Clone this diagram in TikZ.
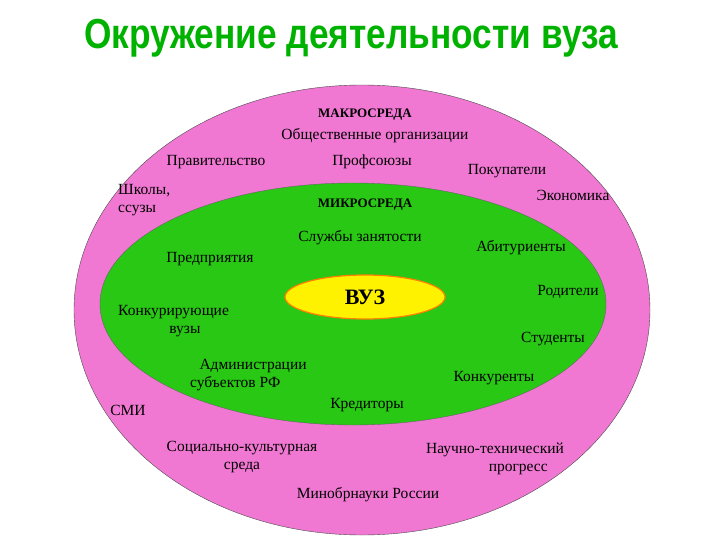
\documentclass[tikz,border=0pt]{standalone}
\usepackage{fontspec}
\usetikzlibrary{shapes.geometric}
\setmainfont{Liberation Serif}
\newfontfamily\titlefont{Liberation Sans}
\begin{document}
\begin{tikzpicture}[x=1pt,y=-1pt,
  lbl/.style={font=\fontsize{15.5}{18}\selectfont, inner sep=0pt},
  lbll/.style={lbl, anchor=west, align=left},
  lblc/.style={lbl, align=center}]
\useasboundingbox (0,0) rectangle (720,540);
\fill[white] (0,0) rectangle (720,540);
\node[inner sep=0pt, text=green!70!black, font=\titlefont\bfseries\fontsize{42}{46}\selectfont, xscale=0.84] (title) at (351,38) {Окружение деятельности вуза};
\node[ellipse, draw=black!70, fill={rgb,255:red,240;green,120;blue,210}, minimum width=576, minimum height=450, inner sep=0pt] (macro) at (362,310) {};
\node[ellipse, draw=black!60, fill={rgb,255:red,40;green,200;blue,20}, minimum width=506, minimum height=242, inner sep=0pt] (micro) at (353,304) {};
\node[ellipse, draw=orange, line width=1.2pt, fill=yellow, minimum width=160, minimum height=44, inner sep=0pt, font=\bfseries\fontsize{22}{24}\selectfont] (vuz) at (365,297) {ВУЗ};
\node[lbl, font=\bfseries\fontsize{13}{15}\selectfont] (t1) at (365,115) {МАКРОСРЕДА};
\node[lbl] (t2) at (375,136) {Общественные организации};
\node[lbl] (t3) at (216,162) {Правительство};
\node[lbl] (t4) at (372,162) {Профсоюзы};
\node[lbl] (t5) at (507,171) {Покупатели};
\node[lbll] (t6) at (118,200) {Школы,\\ссузы};
\node[lbl] (t7) at (573,195) {Экономика};
\node[lbl, font=\bfseries\fontsize{13}{15}\selectfont] (t8) at (365,205) {МИКРОСРЕДА};
\node[lbl] (t9) at (360,238) {Службы занятости};
\node[lbl] (t10) at (521,248) {Абитуриенты};
\node[lbl] (t11) at (210,259) {Предприятия};
\node[lbl] (t12) at (568,292) {Родители};
\node[lbll] (t13) at (118,321) {Конкурирующие\\\hspace*{3.3em}вузы};
\node[lbl] (t14) at (553,339) {Студенты};
\node[lbll] (t15) at (190,375) {\hspace*{0.6em}Администрации\\субъектов РФ};
\node[lbl] (t16) at (494,378) {Конкуренты};
\node[lbl] (t17) at (128,410) {СМИ};
\node[lbl] (t18) at (367,405) {Кредиторы};
\node[lblc] (t19) at (242,457) {Социально-культурная\\среда};
\node[lblc] (t20) at (495,459) {Научно-технический\\\hspace*{3em}прогресс};
\node[lbl] (t21) at (368,495) {Минобрнауки России};
\end{tikzpicture}
\end{document}
